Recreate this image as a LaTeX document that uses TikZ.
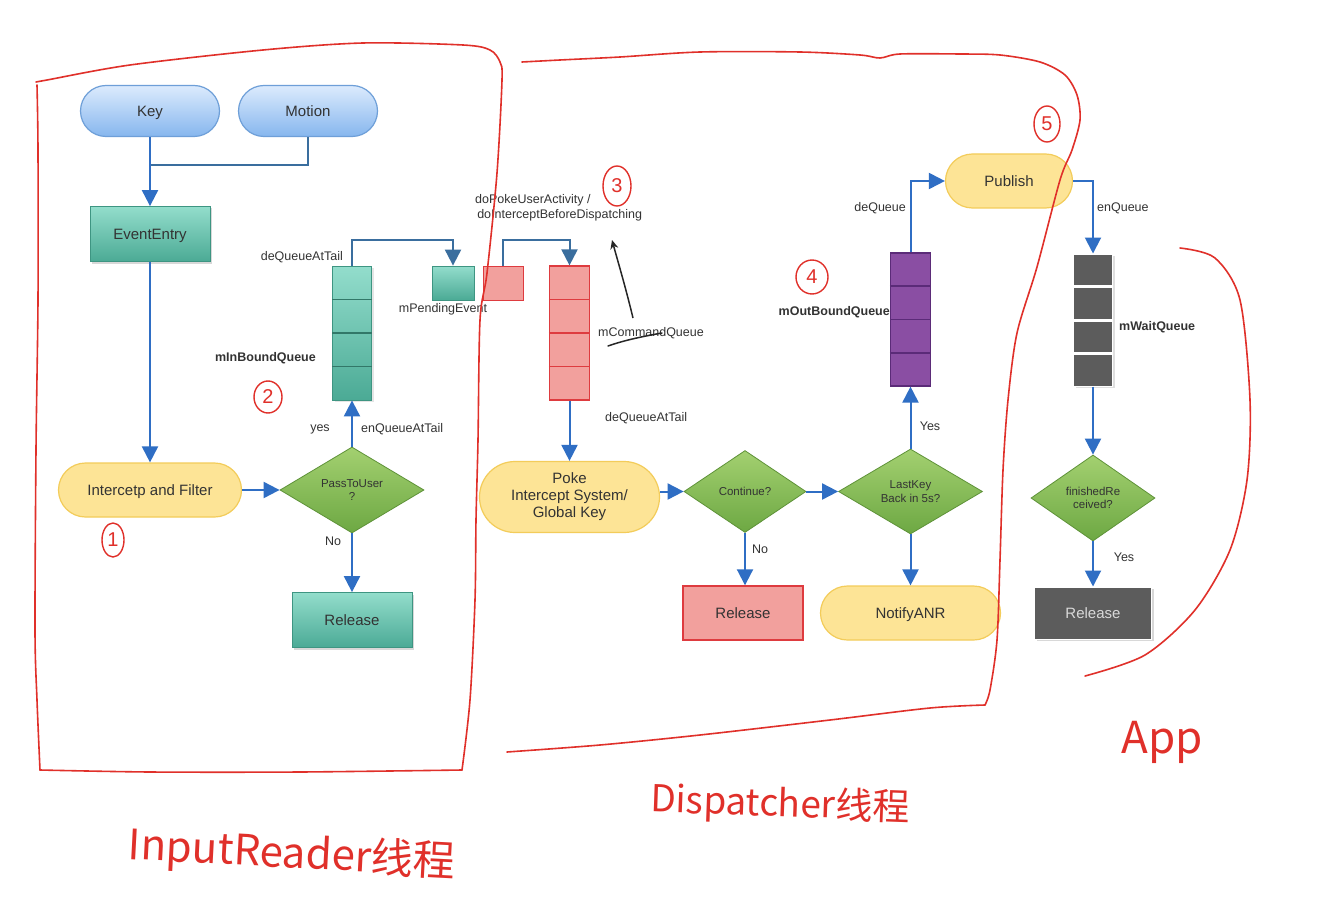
\documentclass[tikz,border=0pt]{standalone}
\usepackage{fontspec}
\setmainfont{Liberation Sans}
\newfontfamily\cjk{Noto Sans CJK SC}
\usetikzlibrary{shapes.geometric,shapes.misc,arrows.meta,calc,shadows}
\definecolor{blueT}{HTML}{DCEBFD}
\definecolor{blueB}{HTML}{86B6EE}
\definecolor{blueD}{HTML}{6E9FD8}
\definecolor{tealT}{HTML}{93DDCC}
\definecolor{tealB}{HTML}{4BAA95}
\definecolor{tealD}{HTML}{3E9582}
\definecolor{yelF}{HTML}{FDE496}
\definecolor{yelD}{HTML}{F3CC5A}
\definecolor{grnT}{HTML}{A3D070}
\definecolor{grnB}{HTML}{6DA843}
\definecolor{grnD}{HTML}{5E9238}
\definecolor{redF}{HTML}{F2A09D}
\definecolor{redD}{HTML}{DE3B3F}
\definecolor{purF}{HTML}{8A4EA3}
\definecolor{purD}{HTML}{5B2B78}
\definecolor{grayF}{HTML}{5C5C5C}
\definecolor{arrowc}{HTML}{2F6EC4}
\definecolor{linec}{HTML}{3A6E9E}
\definecolor{hand}{HTML}{E0302A}
\definecolor{txt}{HTML}{333333}
\begin{document}
\begin{tikzpicture}[x=1pt,y=-1pt,
  base/.style={font=\fontsize{15}{17}\selectfont, text=txt, align=center, inner sep=0pt, text height=12pt, text depth=1pt},
  stad/.style={base, rounded rectangle, draw, line width=1.2pt},
  bluenode/.style={stad, top color=blueT, bottom color=blueB, draw=blueD, minimum width=139pt, minimum height=51pt},
  yelnode/.style={stad, fill=yelF, draw=yelD, minimum height=54pt},
  tealbox/.style={base, rectangle, draw=tealD, line width=0.8pt, top color=tealT, bottom color=tealB, minimum width=120pt, minimum height=55pt,
     drop shadow={shadow xshift=2pt, shadow yshift=-2pt, opacity=0.3}},
  dia/.style={base, diamond, draw=grnD, line width=0.8pt, top color=grnT, bottom color=grnB, font=\fontsize{11.5}{13.5}\selectfont, text height=, text depth=},
  lbl/.style={font=\fontsize{12.5}{15}\selectfont, text=txt, inner sep=0pt},
  blbl/.style={lbl, font=\fontsize{12.5}{15}\selectfont\bfseries},
  tip/.style={-{Triangle[width=16pt,length=16pt]}},
  flow/.style={draw=arrowc, line width=2pt, tip},
  link/.style={draw=linec, line width=2pt},
  qdiv/.style={line width=1.2pt},
  handline/.style={draw=hand, line width=1.6pt, line cap=round, line join=round},
  circnum/.style={draw=hand, line width=1.4pt, ellipse, inner sep=0pt, text=hand, font=\fontsize{20}{20}\selectfont},
  handtxt/.style={text=hand, inner sep=0pt}
]
\useasboundingbox (0,0) rectangle (1330,920);
\fill[white] (0,0) rectangle (1330,920);

% ---- InputReader part ----
\node[bluenode] (key) at (150,111) {Key};
\node[bluenode] (motion) at (308,111) {Motion};
\coordinate (join) at (150,165);
\node[tealbox] (evt) at (150,234) {EventEntry};
\node[yelnode, minimum width=183pt] (filter) at (150,490) {Intercetp and Filter};
\node[dia, minimum width=144pt, minimum height=86pt] (pass) at (352,490) {PassToUser\\?};
\node[tealbox] (rel1) at (352,620) {Release};
\node[base, rectangle, draw=tealD, line width=0.8pt, top color=tealT, bottom color=tealB, minimum width=39pt, minimum height=134pt,
   drop shadow={shadow xshift=2pt, shadow yshift=-2pt, opacity=0.2}] (inq) at (352,333) {};
\foreach \f in {0.25,0.5,0.75}
  \draw[qdiv, draw=tealD!80!black] ($(inq.north west)!\f!(inq.south west)$) -- ($(inq.north east)!\f!(inq.south east)$);
\node[base, rectangle, draw=tealD, line width=0.8pt, top color=tealT, bottom color=tealB, minimum width=42pt, minimum height=34pt] (pend) at (453,283) {};
\node[base, rectangle, draw=redD, line width=1pt, fill=redF, minimum width=40pt, minimum height=34pt] (pend2) at (503,283) {};
\node[base, rectangle, draw=redD, line width=1.2pt, fill=redF, minimum width=40pt, minimum height=134pt] (cmdq) at (569.5,333) {};
\foreach \f in {0.25,0.5,0.75}
  \draw[qdiv, draw=redD] ($(cmdq.north west)!\f!(cmdq.south west)$) -- ($(cmdq.north east)!\f!(cmdq.south east)$);

\draw[link] (motion.south) |- (join);
\draw[flow] (key.south) -- (evt.north);
\draw[flow] (evt.south) -- (filter.north);
\draw[flow] (filter.east) -- (pass.west);
\draw[flow] (pass.north) -- (inq.south);
\draw[flow] (pass.south) -- (rel1.north);
\draw[link, tip] (inq.north) -- ++(0,-26) -| (pend.north);
\draw[link, tip] (pend2.north) -- ++(0,-26) -| (cmdq.north);

\node[lbl, anchor=east] at (343,257) {deQueueAtTail};
\node[lbl] at (443,309) {mPendingEvent};
\node[blbl, anchor=east] at (316,358) {mInBoundQueue};
\node[lbl] at (320,429) {yes};
\node[lbl, anchor=west] at (361,429) {enQueueAtTail};
\node[lbl] at (333,541) {No};

% ---- Dispatcher part ----
\node[lbl, anchor=west, align=left] at (475,208) {doPokeUserActivity /\\\,doInterceptBeforeDispatching};
\node[lbl, anchor=west] at (598,333) {mCommandQueue};
\node[lbl, anchor=west] at (605,418) {deQueueAtTail};
\node[yelnode, minimum width=180pt, minimum height=71pt, text height=, text depth=] (poke) at (569.5,497) {Poke\\Intercept System/\\Global Key};
\node[dia, minimum width=122pt, minimum height=82pt] (cont) at (745,491.5) {Continue?};
\node[dia, minimum width=144pt, minimum height=85pt] (last) at (910.5,491.5) {LastKey\\Back in 5s?};
\node[base, rectangle, draw=redD, line width=1.4pt, fill=redF, minimum width=120pt, minimum height=54pt] (rel2) at (743,613) {Release};
\node[yelnode, minimum width=180pt] (anr) at (910.5,613) {NotifyANR};
\node[base, rectangle, draw=purD, line width=1.2pt, fill=purF, minimum width=40pt, minimum height=133pt] (outq) at (910.5,319.5) {};
\foreach \f in {0.25,0.5,0.75}
  \draw[qdiv, draw=purD] ($(outq.north west)!\f!(outq.south west)$) -- ($(outq.north east)!\f!(outq.south east)$);
\node[yelnode, minimum width=127pt] (pub) at (1009,181) {Publish};

\draw[flow] (cmdq.south) -- (poke.north);
\draw[flow] (poke.east |- cont.west) -- (cont.west);
\draw[flow] (cont.east) -- (last.west);
\draw[flow] (cont.south) -- (cont.south |- rel2.north);
\draw[flow] (last.south) -- (anr.north);
\draw[flow] (last.north) -- (outq.south);
\draw[flow] (outq.north) |- (pub.west);

\node[lbl] at (760,549) {No};
\node[lbl] at (930,426) {Yes};
\node[blbl, anchor=east] at (890,312) {mOutBoundQueue};
\node[lbl, anchor=east] at (906,208) {deQueue};

% ---- App part ----
\node[base, rectangle, fill=grayF, draw=white, line width=1pt, minimum width=39pt, minimum height=132pt,
   drop shadow={shadow xshift=2pt, shadow yshift=-2pt, opacity=0.25}] (waitq) at (1093,320) {};
\foreach \f in {0.25,0.5,0.75}
  \draw[white, line width=3pt] ($(waitq.north west)!\f!(waitq.south west)$) -- ($(waitq.north east)!\f!(waitq.south east)$);
\node[dia, minimum width=124pt, minimum height=86pt] (fin) at (1093,498) {finishedRe\\ceived?};
\node[base, rectangle, fill=grayF, draw=white, line width=1pt, text=white!85!black, minimum width=117pt, minimum height=52pt,
   drop shadow={shadow xshift=2pt, shadow yshift=-2pt, opacity=0.3}] (rel3) at (1093,613) {Release};

\draw[flow] (pub.east) -| (waitq.north);
\draw[flow] (waitq.south) -- (fin.north);
\draw[flow] (fin.south) -- (rel3.north);
\node[lbl, anchor=west] at (1097,208) {enQueue};
\node[blbl, anchor=west] at (1119,327) {mWaitQueue};
\node[lbl] at (1124,557) {Yes};

% ---- hand-drawn annotations ----
\draw[handline] plot[smooth, tension=0.5] coordinates {(36,82) (47,80) (130,65) (263,50) (363,43) (463,45) (490,50) (500,62) (502,80) (497,173) (487,273) (480,320) (478,440) (476,520) (475,600) (470,700) (462,770)};
\draw[handline] plot[smooth, tension=0.5] coordinates {(462,770) (300,772) (150,772) (40,770)};
\draw[handline] plot[smooth, tension=0.5] coordinates {(40,770) (37,700) (35,630) (36,450) (38,300) (38,150) (37,85)};

\draw[handline] plot[smooth, tension=0.5] coordinates {(522,62) (560,60) (620,57) (700,52) (800,52) (860,55) (880,58) (900,54) (960,54) (1000,55) (1040,62) (1065,75) (1077,95) (1080,120) (1072,150) (1060,180) (1037,267) (1017,333) (1008,400) (1003,470) (1000,560) (997,640) (990,690) (985,705)};
\draw[handline] plot[smooth, tension=0.5] coordinates {(985,705) (930,708) (830,720) (700,735) (600,745) (507,752)};
\draw[handline] plot[smooth, tension=0.5] coordinates {(1180,248) (1215,258) (1240,300) (1250,400) (1247,480) (1230,550) (1195,610) (1145,655) (1085,676)};

\node[circnum, minimum width=22pt, minimum height=34pt] (c1) at (113,540) {1};
\node[circnum, minimum width=28pt, minimum height=32pt] (c2) at (268,397) {2};
\node[circnum, minimum width=28pt, minimum height=40pt] (c3) at (617,186) {3};
\node[circnum, minimum width=32pt, minimum height=34pt] (c4) at (812,277) {4};
\node[circnum, minimum width=26pt, minimum height=36pt] (c5) at (1047,124) {5};

\coordinate (ha) at (633,318);
\coordinate (hb) at (612,240);
\draw[line width=1.5pt, black!85, -{Stealth[length=9pt,width=8pt]}] (ha) .. controls (625,285) and (618,262) .. (hb);
\coordinate (ua) at (608,346);
\coordinate (ub) at (662,333);
\draw[line width=1.5pt, black!85, line cap=round] (ua) .. controls (625,340) and (645,336) .. (ub);

\node[handtxt, font=\cjk\fontsize{42}{42}\selectfont, rotate=-3] (t1) at (292,855) {InputReader线程};
\node[handtxt, font=\cjk\fontsize{37}{37}\selectfont, rotate=-2] (t2) at (780,805) {Dispatcher线程};
\node[handtxt, font=\cjk\fontsize{44}{44}\selectfont] (t3) at (1162,742) {App};
\end{tikzpicture}
\end{document}
